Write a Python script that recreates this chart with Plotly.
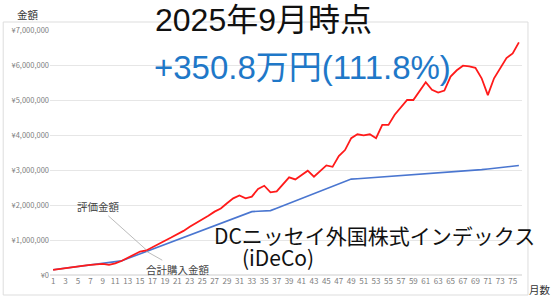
import plotly.graph_objects as go

months = list(range(1, 77))

purchase_total = [
    150000, 173000, 196000, 219000, 242000, 265000, 288000, 311000, 334000, 357000,
    380000, 403000, 470000, 537000, 604000, 671000, 738000, 805000, 872000, 939000,
    1006000, 1073000, 1140000, 1207000, 1274000, 1341000, 1408000, 1475000, 1542000, 1609000,
    1676000, 1743000, 1810000, 1820000, 1830000, 1840000, 1909000, 1978000, 2047000, 2116000,
    2185000, 2254000, 2323000, 2392000, 2461000, 2530000, 2599000, 2668000, 2740000, 2752000,
    2764000, 2776000, 2788000, 2800000, 2812000, 2824000, 2836000, 2848000, 2860000, 2872000,
    2884000, 2896000, 2908000, 2920000, 2932000, 2944000, 2956000, 2974000, 2992000, 3010000,
    3028000, 3046000, 3064000, 3082000, 3105000, 3130000,
]

valuation = [
    145000, 165000, 190000, 215000, 240000, 265000, 290000, 310000, 320000, 290000,
    330000, 400000, 490000, 590000, 670000, 700000, 800000, 900000, 980000, 1070000,
    1160000, 1260000, 1380000, 1480000, 1600000, 1690000, 1810000, 1900000, 2050000, 2190000,
    2270000, 2190000, 2240000, 2460000, 2550000, 2360000, 2390000, 2600000, 2790000, 2730000,
    2860000, 2980000, 2810000, 2970000, 3130000, 3090000, 3400000, 3570000, 3910000, 4020000,
    3990000, 4020000, 3910000, 4290000, 4290000, 4580000, 4780000, 5000000, 5000000, 5250000,
    5510000, 5290000, 5210000, 5270000, 5670000, 5850000, 5980000, 5960000, 5920000, 5620000,
    5140000, 5620000, 5900000, 6200000, 6330000, 6646000,
]

y_tick_vals = [0, 1000000, 2000000, 3000000, 4000000, 5000000, 6000000, 7000000]
y_tick_text = ["¥0", "¥1,000,000", "¥2,000,000", "¥3,000,000", "¥4,000,000",
               "¥5,000,000", "¥6,000,000", "¥7,000,000"]
x_tick_vals = list(range(1, 76, 2))

W, H = 553, 300
L, R, T, B = 48, 31, 30, 25
pw, ph = W - L - R, H - T - B


def px(x):
    return (x - L) / pw


def py(y):
    return (H - B - y) / ph


FONT = "Noto Sans CJK JP, Noto Sans, sans-serif"
FONT_BIG = "Liberation Sans, Noto Sans CJK JP, sans-serif"

fig = go.Figure()
fig.add_trace(go.Scatter(x=months, y=purchase_total, mode="lines",
                         line=dict(color="#4a76d0", width=1.6), name="合計購入金額",
                         hoverinfo="skip"))
fig.add_trace(go.Scatter(x=months, y=valuation, mode="lines",
                         line=dict(color="#ff1a1a", width=1.8), name="評価金額",
                         hoverinfo="skip"))

annotations = [
    dict(text="2025年9月時点", x=px(151), y=py(20), xref="paper", yref="paper",
         xanchor="left", yanchor="middle", showarrow=False,
         font=dict(size=32, color="#111111", family=FONT_BIG)),
    dict(text="+350.8万円(111.8%)", x=px(150), y=py(67), xref="paper", yref="paper",
         xanchor="left", yanchor="middle", showarrow=False,
         font=dict(size=33, color="#1f78c8", family=FONT_BIG)),
    dict(text="DCニッセイ外国株式インデックス", x=px(211), y=py(235), xref="paper", yref="paper",
         xanchor="left", yanchor="middle", showarrow=False,
         font=dict(size=21, color="#111111", family=FONT)),
    dict(text="(iDeCo)", x=px(239), y=py(257), xref="paper", yref="paper",
         xanchor="left", yanchor="middle", showarrow=False,
         font=dict(size=21, color="#111111", family=FONT)),
    dict(text="金額", x=px(13), y=py(14), xref="paper", yref="paper",
         xanchor="left", yanchor="middle", showarrow=False,
         font=dict(size=10.5, color="#333333", family=FONT)),
    dict(text="月数", x=px(527), y=py(289), xref="paper", yref="paper",
         xanchor="left", yanchor="middle", showarrow=False,
         font=dict(size=10.5, color="#333333", family=FONT)),
    dict(text="評価金額", x=16, y=720000, xref="x", yref="y",
         ax=-48, ay=-43, showarrow=True, arrowhead=0, arrowwidth=0.8,
         arrowcolor="#aaaaaa", font=dict(size=10.5, color="#444444", family=FONT)),
    dict(text="合計購入金額", x=16, y=680000, xref="x", yref="y",
         ax=32, ay=18, showarrow=True, arrowhead=0, arrowwidth=0.8,
         arrowcolor="#aaaaaa", font=dict(size=10.5, color="#444444", family=FONT)),
]

shapes = [
    dict(type="rect", xref="paper", yref="paper", x0=px(1), x1=px(528), y0=py(295), y1=py(22),
         line=dict(color="#dddddd", width=1), fillcolor="rgba(0,0,0,0)", layer="below"),
]

fig.update_layout(
    width=W, height=H,
    margin=dict(l=L, r=R, t=T, b=B),
    paper_bgcolor="white", plot_bgcolor="white",
    showlegend=False,
    annotations=annotations,
    shapes=shapes,
    font=dict(family=FONT),
    xaxis=dict(range=[0.5, 76.5], tickmode="array", tickvals=x_tick_vals,
               showgrid=False, zeroline=False, showline=False, ticks="",
               tickfont=dict(size=8, color="#808080"), fixedrange=True),
    yaxis=dict(range=[0, 7000000], tickmode="array", tickvals=y_tick_vals,
               ticktext=y_tick_text, showgrid=True, gridcolor="#e6e6e6", gridwidth=1,
               zeroline=True, zerolinecolor="#e6e6e6", showline=False, ticks="",
               tickfont=dict(size=7.5, color="#808080"), fixedrange=True),
)

fig.write_html("out.html")
